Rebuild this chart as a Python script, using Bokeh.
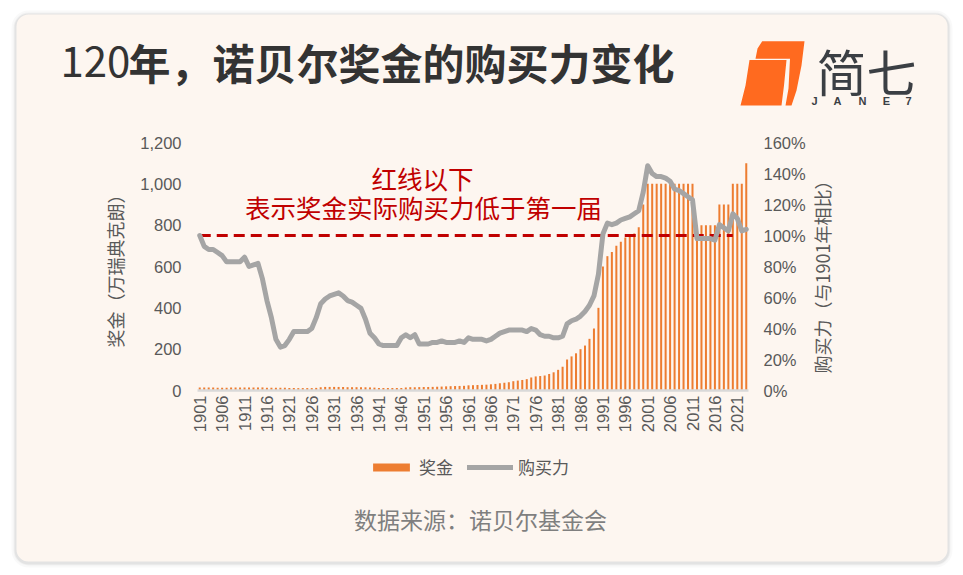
import math
from bokeh.plotting import figure
from bokeh.models import (Range1d, LinearAxis, FixedTicker, NumeralTickFormatter, Label,
                          PolyAnnotation, BoxAnnotation, Legend, LegendItem, ColumnDataSource)
from bokeh.embed import file_html
from bokeh.resources import INLINE

# ---------------- data ----------------
years = list(range(1901, 2024))
# Nobel prize amount, 万瑞典克朗
prize = [15.1, 14.2, 14.1, 14.1, 13.8, 13.9, 13.9, 14.0, 14.0, 14.1,
         14.0, 14.0, 14.3, 14.7, 14.9, 13.2, 13.4, 13.3, 13.3, 13.4,
         12.2, 12.2, 11.5, 11.7, 11.8, 11.7, 12.7, 15.7, 17.3, 17.3,
         17.3, 17.2, 17.0, 16.0, 16.0, 16.0, 15.8, 15.5, 14.9, 13.9,
         12.2, 12.2, 12.2, 12.2, 12.1, 12.2, 14.6, 16.0, 15.6, 16.4,
         16.8, 17.1, 17.5, 18.2, 19.0, 20.0, 20.9, 21.5, 22.1, 22.6,
         25.0, 25.7, 26.5, 27.3, 28.2, 30.0, 32.0, 35.0, 37.5, 40.0,
         45.0, 48.0, 51.0, 55.0, 63.0, 68.1, 70.0, 72.5, 80.0, 88.0,
         100, 115, 150, 165, 180, 200, 217.5, 250, 300, 400,
         600, 650, 670, 700, 720, 740, 750, 760, 790, 900,
         1000, 1000, 1000, 1000, 1000, 1000, 1000, 1000, 1000, 1000, 1000,
         800, 800, 800, 800, 800,
         900, 900, 900,
         1000, 1000, 1000,
         1100]
# purchasing power relative to 1901
power = [1.00, 0.93, 0.91, 0.91, 0.89, 0.87, 0.83, 0.83, 0.83, 0.83,
         0.86, 0.80, 0.81, 0.82, 0.72, 0.58, 0.47, 0.33, 0.28, 0.29,
         0.33, 0.38, 0.38, 0.38, 0.38, 0.40, 0.47, 0.56, 0.59, 0.61,
         0.62, 0.63, 0.61, 0.58, 0.57, 0.55, 0.53, 0.46, 0.37, 0.34,
         0.30, 0.29, 0.29, 0.29, 0.29, 0.34, 0.36, 0.34, 0.36, 0.30,
         0.30, 0.30, 0.31, 0.31, 0.32, 0.31, 0.31, 0.31, 0.32, 0.31,
         0.34, 0.33, 0.33, 0.33, 0.32, 0.33, 0.35, 0.37, 0.38, 0.39,
         0.39, 0.39, 0.39, 0.38, 0.40, 0.39, 0.36, 0.35, 0.35, 0.34,
         0.34, 0.35, 0.43, 0.45, 0.46, 0.48, 0.51, 0.55, 0.61, 0.75,
         1.01, 1.08, 1.07, 1.08, 1.10, 1.11, 1.12, 1.14, 1.16, 1.28,
         1.45, 1.40, 1.38, 1.38, 1.37, 1.35, 1.30, 1.29, 1.27, 1.25, 1.23,
         0.98, 0.98, 0.98, 0.98, 0.97,
         1.07, 1.05, 1.03,
         1.14, 1.11, 1.03,
         1.04]
ref_years = [1901, 2020]
ref_level = [1.0, 1.0]
x_ticks = list(range(1901, 2022, 5))
left_ticks = [0, 200, 400, 600, 800, 1000, 1200]
right_ticks = [0, 0.2, 0.4, 0.6, 0.8, 1.0, 1.2, 1.4, 1.6]

title_num = "120"
title_rest = "年，诺贝尔奖金的购买力变化"
left_title = "奖金（万瑞典克朗）"
right_title = "购买力（与1901年相比）"
note_1 = "红线以下"
note_2 = "表示奖金实际购买力低于第一届"
source_txt = "数据来源：诺贝尔基金会"
legend_labels = ["奖金", "购买力"]
logo_cn = "简七"
logo_en = "JANE7"

# ---------------- styling constants ----------------
BG = "#fdf6f0"
ORANGE = "#ed7d31"
GRAY = "#a5a5a5"
RED = "#c00000"
TXT = "#595959"
CJK = "Noto Sans CJK SC"
LAT = "Liberation Sans"

PW, PH = 963, 575                 # figure size (Bokeh page has no body margin)
PX0, PY0 = 0, 0
FX0, FX1, FY0, FY1 = 197, 748, 142, 390   # chart area in page px
XS, XE = 1900.5, 2023.5
YMAX, PMAX = 1200.0, 1.6

def dx(px):
    return XS + (px - FX0) * (XE - XS) / (FX1 - FX0)

def dy(py):
    return (FY1 - py) * YMAX / (FY1 - FY0)

def dp(py):
    return (FY1 - py) * PMAX / (FY1 - FY0)

p = figure(width=PW, height=PH, output_backend="svg", toolbar_location=None,
           x_range=Range1d(dx(PX0), dx(PX0 + PW)),
           y_range=Range1d(dy(PY0 + PH), dy(PY0)),
           x_axis_type=None, y_axis_type=None,
           min_border=0, min_border_left=0, min_border_right=0,
           min_border_top=0, min_border_bottom=0)
p.extra_y_ranges = {"pct": Range1d(dp(PY0 + PH), dp(PY0))}
p.background_fill_color = "white"
p.border_fill_color = "white"
p.outline_line_color = None
p.grid.visible = False

# card with soft shadow
for k, a in [(5, 0.025), (3, 0.035), (2, 0.05)]:
    sh = BoxAnnotation(left=dx(16 - k), right=dx(947 + k), top=dy(14 - k + 1), bottom=dy(561 + k + 1),
                       fill_color="black", fill_alpha=a, line_color=None, level="underlay",
                       border_radius=12 + k)
    p.add_layout(sh)
card = BoxAnnotation(left=dx(16), right=dx(947), top=dy(14), bottom=dy(561),
                     fill_color=BG, fill_alpha=1.0, line_color=None, level="underlay",
                     border_radius=12)
p.add_layout(card)

src = ColumnDataSource(dict(year=years, prize=prize, power=power))
bars = p.vbar(x="year", top="prize", width=0.45, source=src,
              fill_color=ORANGE, line_color=None)
p.line(ref_years, ref_level, y_range_name="pct", line_color=RED,
       line_width=3, line_dash="11 6")
pline = p.line(x="year", y="power", source=src, y_range_name="pct",
               line_color=GRAY, line_width=5, line_join="round", line_cap="round")

def style_axis(ax):
    ax.major_tick_line_color = None
    ax.minor_tick_line_color = None
    ax.major_tick_out = 0
    ax.major_tick_in = 0
    ax.minor_tick_out = 0
    ax.minor_tick_in = 0
    ax.major_label_text_font = LAT
    ax.major_label_text_font_size = "16.5px"
    ax.major_label_text_color = TXT

xa = LinearAxis(fixed_location=0, bounds=(XS, XE), ticker=FixedTicker(ticks=x_ticks))
style_axis(xa)
xa.major_label_orientation = math.pi / 2
xa.axis_line_color = "#d9d9d9"
xa.axis_line_width = 2.5
xa.major_label_standoff = 5
p.add_layout(xa, "below")

ya = LinearAxis(fixed_location=XS, bounds=(0, YMAX), ticker=FixedTicker(ticks=left_ticks),
                formatter=NumeralTickFormatter(format="0,0"))
style_axis(ya)
ya.axis_line_color = None
ya.major_label_standoff = 16
ya.axis_label = left_title
ya.axis_label_text_font = CJK
ya.axis_label_text_font_size = "18px"
ya.axis_label_text_font_style = "normal"
ya.axis_label_text_color = TXT
ya.axis_label_standoff = 9
p.add_layout(ya, "left")

ra = LinearAxis(y_range_name="pct", fixed_location=XE, bounds=(0, PMAX),
                ticker=FixedTicker(ticks=right_ticks),
                formatter=NumeralTickFormatter(format="0%"))
style_axis(ra)
ra.axis_line_color = None
ra.major_label_standoff = 15
p.add_layout(ra, "right")

p.add_layout(Label(x=dx(821), y=dy(272), text=right_title, angle=math.pi / 2,
                   text_font=CJK, text_font_size="18px", text_color=TXT,
                   text_align="center", text_baseline="middle"))

# red notes
p.add_layout(Label(x=dx(422), y=dy(177), text=note_1, text_font=CJK,
                   text_font_size="25.5px", text_color=RED,
                   text_align="center", text_baseline="middle"))
p.add_layout(Label(x=dx(423), y=dy(206), text=note_2, text_font=CJK,
                   text_font_size="25.5px", text_color=RED,
                   text_align="center", text_baseline="middle"))

# title
p.add_layout(Label(x=dx(60), y=dy(61), text=title_num, text_font=CJK,
                   text_font_size="42px", text_color="#333333",
                   text_align="left", text_baseline="middle"))
p.add_layout(Label(x=dx(128), y=dy(61), text=title_rest, text_font=CJK,
                   text_font_size="42px", text_font_style="bold", text_color="#333333",
                   text_align="left", text_baseline="middle"))

# logo
back = [(761.7, 40.7), (804, 40.7), (801, 65), (796, 90), (791, 105), (785, 105),
        (788, 88), (789.5, 58.3), (755, 58.3), (757, 48)]
front = [(749, 59.5), (786, 59.5), (783.5, 85), (781, 105), (740, 105), (745, 85)]
for poly in (back, front):
    p.add_layout(PolyAnnotation(xs=[dx(a) for a, b in poly], ys=[dy(b) for a, b in poly],
                                fill_color="#ff6a1f", fill_alpha=1.0, line_color=None))
p.add_layout(Label(x=dx(866), y=dy(69), text=logo_cn, text_font=CJK,
                   text_font_size="50px", text_color="#3b3f44",
                   text_align="center", text_baseline="middle"))
for ch, lx in zip(logo_en, [814, 837, 862, 886, 908]):
    p.add_layout(Label(x=dx(lx), y=dy(100), text=ch, text_font=LAT,
                       text_font_size="11px", text_font_style="bold",
                       text_color="#3b3f44", text_align="center", text_baseline="middle"))

# legend
legend = Legend(items=[LegendItem(label=legend_labels[0], renderers=[bars]),
                       LegendItem(label=legend_labels[1], renderers=[pline])],
                orientation="horizontal", location=(368 - PX0, PY0 + PH - 479),
                glyph_width=46, glyph_height=10, label_height=10,
                label_standoff=5, spacing=14, padding=0, margin=0,
                background_fill_alpha=0, border_line_color=None,
                label_text_font=CJK, label_text_font_size="17px",
                label_text_color=TXT)
p.add_layout(legend, "center")

# source
p.add_layout(Label(x=dx(480), y=dy(518), text=source_txt, text_font=CJK,
                   text_font_size="23px", text_color="#7f7f7f",
                   text_align="center", text_baseline="middle"))

open("out.html", "w").write(file_html(p, INLINE))
